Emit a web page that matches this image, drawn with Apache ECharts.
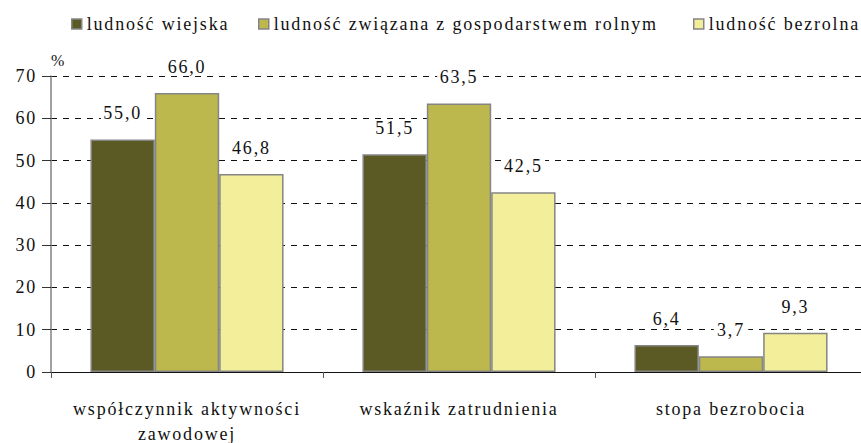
<!DOCTYPE html>
<html>
<head>
<meta charset="utf-8">
<script src="https://cdn.jsdelivr.net/npm/echarts@6/dist/echarts.min.js"></script>
<style>
  html, body { margin: 0; padding: 0; background: #fff; }
  #chart { width: 861px; height: 443px; }
  #chart text { letter-spacing: 1.8px; }
</style>
</head>
<body>
<div id="chart"></div>
<script>
// categories and series
const categories = ["współczynnik aktywności\nzawodowej", "wskaźnik zatrudnienia", "stopa bezrobocia"];
const seriesNames = ["ludność wiejska", "ludność związana z gospodarstwem rolnym", "ludność bezrolna"];
const wiejska = [55.0, 51.5, 6.4];
const rolna = [66.0, 63.5, 3.7];
const bezrolna = [46.8, 42.5, 9.3];
const yTicks = [0, 10, 20, 30, 40, 50, 60, 70];

const colors = ["#5C5A24", "#BCB84E", "#F2EE9A"];
const font = "'Liberation Serif', 'Times New Roman', serif";
const legendLeft = [66, 253, 688];

const chart = echarts.init(document.getElementById("chart"), null, { renderer: "svg" });

const makeSeries = (name, data, i) => ({
    name: name,
    type: "bar",
    data: data,
    barGap: "0%",
    barCategoryGap: "29%",
    itemStyle: {
        color: colors[i],
        borderColor: "#858585",
        borderWidth: 1.5,
    },
    label: {
        show: true,
        position: "top",
        distance: 17,
        fontFamily: font,
        fontSize: 18,
        color: "#111",
        backgroundColor: "#fff",
        padding: [0, 6],
        formatter: (p) => p.value.toFixed(1).replace(".", ","),
    },
});

const option = {
    animation: false,
    textStyle: { fontFamily: font },
    legend: seriesNames.map((name, i) => ({
        data: [name],
        top: 10,
        left: legendLeft[i],
        itemWidth: 10,
        itemHeight: 10,
        icon: "rect",
        textStyle: { fontFamily: font, fontSize: 18, color: "#111" },
        itemStyle: { borderColor: "#858585", borderWidth: 1.5 },
    })),
    grid: {
        left: 51,
        right: -6,
        top: 76,
        bottom: 71,
        outerBoundsMode: "none",
    },
    xAxis: {
        type: "category",
        data: categories,
        axisLine: { lineStyle: { color: "#111", width: 1 } },
        axisTick: { show: true, length: 6, lineStyle: { color: "#555" } },
        axisLabel: {
            fontFamily: font,
            fontSize: 18,
            color: "#111",
            margin: 24,
            lineHeight: 25,
        },
    },
    yAxis: {
        type: "value",
        min: yTicks[0],
        max: yTicks[yTicks.length - 1],
        interval: 10,
        name: "%",
        nameLocation: "end",
        nameGap: 8,
        nameTextStyle: { fontFamily: font, fontSize: 16, color: "#111", align: "left" },
        axisLine: { show: true, lineStyle: { color: "#808080", width: 1.5 } },
        axisTick: { show: true, length: 9, lineStyle: { color: "#333" } },
        axisLabel: {
            fontFamily: font,
            fontSize: 18,
            color: "#111",
            margin: 14,
        },
        splitLine: {
            show: true,
            lineStyle: { color: "#111", type: [6, 6], width: 1 },
        },
    },
    series: [
        makeSeries(seriesNames[0], wiejska, 0),
        makeSeries(seriesNames[1], rolna, 1),
        makeSeries(seriesNames[2], bezrolna, 2),
    ],
};

chart.setOption(option);
</script>
</body>
</html>
